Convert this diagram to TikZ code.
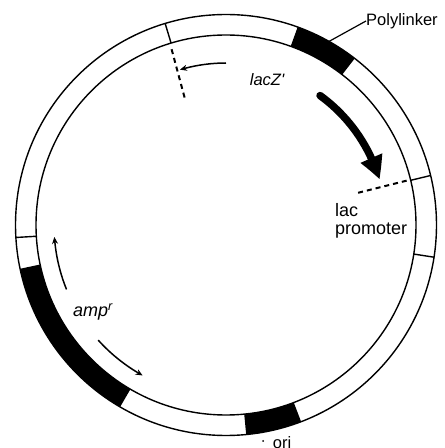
\documentclass[tikz,border=0pt]{standalone}
\usepackage{fontspec}
\setmainfont{Liberation Sans}
\usetikzlibrary{arrows.meta,bending}
\begin{document}
\begin{tikzpicture}[x=1pt,y=1pt,
  ring/.style={line width=1.4pt},
  lbl/.style={font=\fontsize{16.5}{18}\selectfont, inner sep=0pt},
  biglbl/.style={font=\fontsize{18}{18.5}\selectfont, inner sep=0pt},
  thinarrow/.style={line width=1.5pt,-{Stealth[length=7pt,width=6pt,bend]}},
  dashline/.style={line width=2pt,dash pattern=on 5pt off 4pt},
  blackseg/.style={fill=black}]
\useasboundingbox (0,0) rectangle (445,448);
\coordinate (C) at (226,223);
% black segments of the ring
\fill[blackseg,shift={(C)}] (52.3:210.5) arc[start angle=52.3,end angle=70.1,radius=210.5]
   -- (70.1:190) arc[start angle=70.1,end angle=52.3,radius=190] -- cycle;
\fill[blackseg,shift={(C)}] (192:210.5) arc[start angle=192,end angle=239.8,radius=210.5]
   -- (239.8:190) arc[start angle=239.8,end angle=192,radius=190] -- cycle;
\fill[blackseg,shift={(C)}] (275.5:210.5) arc[start angle=275.5,end angle=290.9,radius=210.5]
   -- (290.9:190) arc[start angle=290.9,end angle=275.5,radius=190] -- cycle;
% ring
\draw[ring] (C) circle[radius=210.5];
\draw[ring] (C) circle[radius=190];
\foreach \a in {106.8,13.6,-8.8,183.4}
  \draw[ring,shift={(C)}] (\a:190) -- (\a:210.5);
% lacZ' markers
\draw[dashline,shift={(C)}] (107.2:184) -- (108:134);
\draw[thinarrow,shift={(C)}] (90:162) arc[start angle=90,end angle=106.5,radius=162];
\draw[line width=7.5pt,line cap=round,-{Triangle[length=23pt,width=22pt,bend]},shift={(C)}]
  (54:160) arc[start angle=54,end angle=16.5,radius=160];
\draw[dashline,shift={(C)}] (13.8:186) -- (13.7:135);
% amp arrows
\draw[thinarrow,shift={(C)}] (202:172) arc[start angle=202,end angle=184,radius=172];
\draw[thinarrow,shift={(C)}] (222:172) arc[start angle=222,end angle=241,radius=172];
% labels
\node[lbl,anchor=west] (poly) at (366,427) {Polylinker};
\path[shift={(C)}] (60.7:210.5) coordinate (pl);
\draw[line width=1.2pt] (pl) -- (poly.west);
\node[lbl,font=\fontsize{16.5}{18}\selectfont\itshape] (lacz) at (267,368) {lacZ\textquotesingle};
\node[biglbl,align=left,anchor=west] (lacp) at (335,227) {lac\\promoter};
\node[biglbl,font=\fontsize{18}{18.5}\selectfont\itshape] (amp) at (93,136) {amp\textsuperscript{r}};
\node[lbl,anchor=base] (ori) at (282,-0.6) {ori};
\fill (263,7) circle[radius=1];
\end{tikzpicture}
\end{document}
